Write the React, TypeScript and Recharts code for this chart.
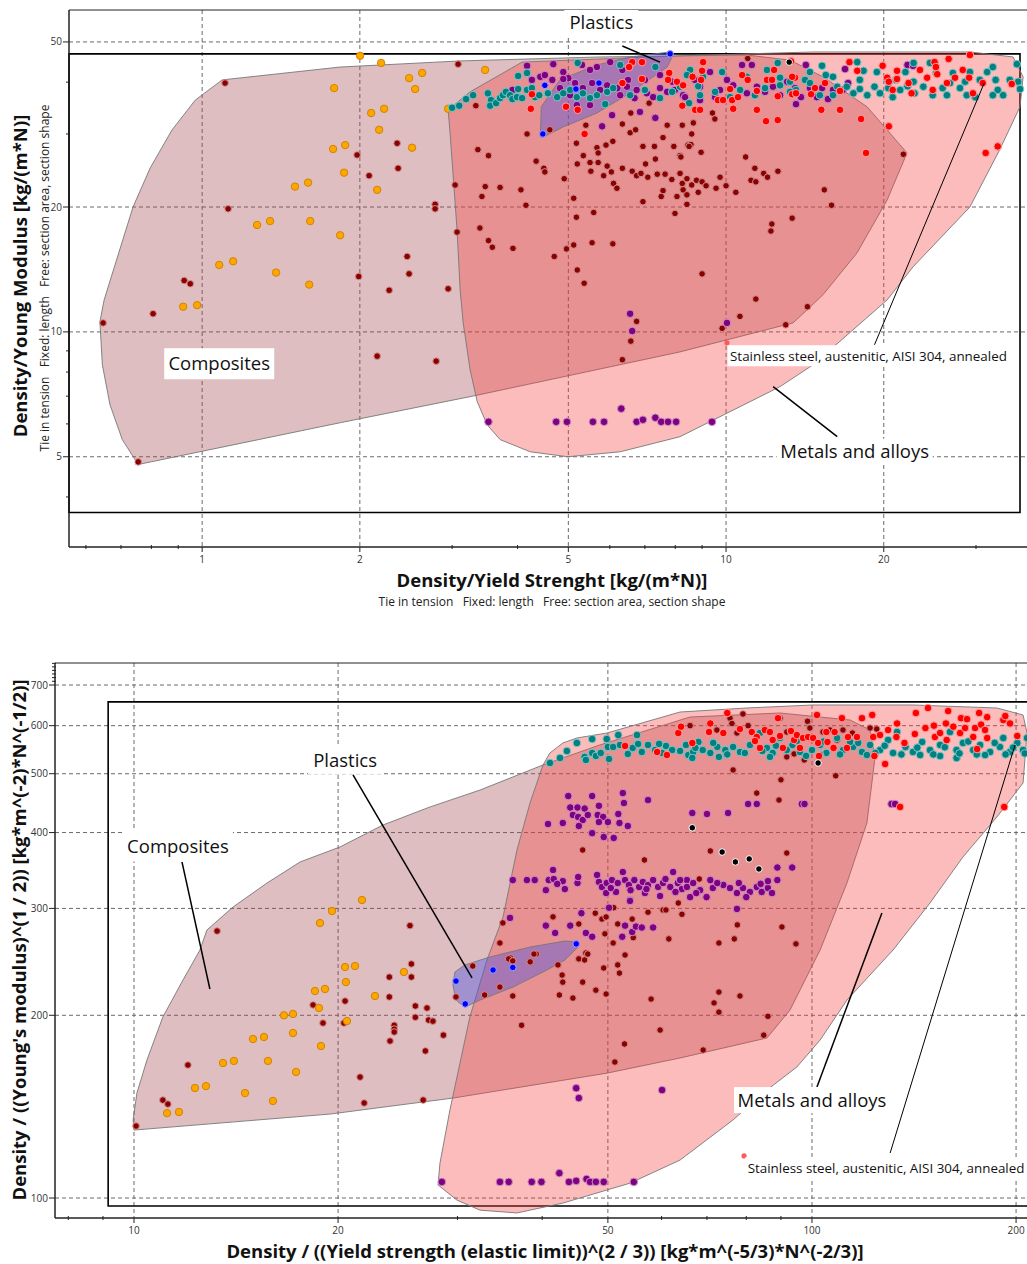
import React from "react";
import { ScatterChart, Scatter, XAxis, YAxis, CartesianGrid, ReferenceArea } from "recharts";

type Pt = [number, number];

// ---------- top chart: Density/Yield strength vs Density/Young modulus ----------
const topXTicks = [0.6, 0.7, 0.8, 0.9, 1, 2, 3, 4, 5, 6, 7, 8, 9, 10, 20, 30];
const topXMajor = [1, 2, 5, 10, 20];
const topYTicks = [4, 5, 6, 7, 8, 9, 10, 20, 30, 40, 50];
const topYMajor = [5, 10, 20, 50];

const topComposites: Pt[] = [
  [0.755, 4.79], [0.704, 5.5], [0.667, 6.67], [0.645, 8.33], [0.638, 10.58], [0.65, 11.94], [0.682, 14.52],
  [0.738, 20], [0.796, 24.85], [0.876, 30.68], [0.97, 36.2], [1.092, 40.5], [1.834, 43.5], [3.108, 45.0],
  [5.75, 46.0], [10.96, 46.5], [13.25, 45.2], [15.31, 41.2], [18.58, 34.9], [22.15, 27.0], [20.3, 20.8],
  [17.78, 15.5], [15.31, 12.29], [14.28, 11.3], [13.42, 10.51], [8.17, 8.95], [3.3, 7.01], [1.834, 6.04],
];
const topMetals: Pt[] = [
  [2.948, 34.3], [3.247, 37.9], [4.08, 44.7], [8.17, 46.3], [14.66, 47.3], [29.2, 47.3], [35.3, 46.0],
  [36.9, 41.2], [36.4, 34.9], [33.3, 27.5], [29.2, 20], [22.75, 14.35], [20.3, 11.94], [17.48, 10.12],
  [14.66, 8.33], [12.68, 7.38], [8.17, 5.59], [6.28, 5.14], [4.99, 5.0], [4.23, 5.14], [3.704, 5.5],
  [3.5, 5.97], [3.35, 6.79], [3.247, 8.1], [3.15, 10.51], [3.108, 12.6], [3.066, 17.6], [2.973, 30.2],
];
const topPlastics: Pt[] = [
  [4.42, 29.5], [4.44, 34.9], [4.82, 40.5], [5.67, 44.0], [6.56, 46.0], [7.82, 47.3], [7.92, 46.5],
  [7.72, 43.5], [6.56, 37.7], [5.67, 33.7], [4.89, 31.2], [4.48, 29.5],
];

const topOrange: Pt[] = [
  [1.786, 38.7], [1.778, 27.6], [1.504, 22.4], [1.593, 22.9], [1.273, 18.1], [1.348, 18.5], [1.608, 18.5],
  [1.834, 17.1], [1.078, 14.5], [1.146, 14.8], [1.384, 13.9], [1.601, 13.0], [0.92, 11.5], [0.978, 11.6],
  [2.002, 46.3], [2.196, 44.5], [2.483, 40.9], [2.63, 42.1], [2.55, 38.5], [3.468, 42.8], [2.102, 33.7],
  [2.225, 34.5], [2.177, 30.7], [1.875, 28.2], [2.516, 27.8], [1.866, 24.2], [2.158, 22.0], [2.948, 34.5],
];
const topDarkRed: Pt[] = [
  [1.106, 39.8], [1.121, 19.8], [0.924, 13.3], [0.949, 13.06], [0.647, 10.51], [0.806, 11.06], [0.755, 4.86],
  [3.08, 44.2], [3.33, 35.1], [1.976, 26.7], [2.356, 28.5], [2.366, 24.8], [2.083, 23.8], [2.784, 20.3],
  [2.784, 19.8], [3.04, 22.6], [3.47, 22.4], [3.704, 22.3], [3.36, 27.5], [3.52, 26.6], [3.42, 21.2],
  [4.06, 22.0], [4.15, 20.2], [4.34, 25.8], [4.49, 24.8], [4.51, 24.3], [4.91, 23.4], [5.12, 21.0],
  [5.18, 18.9], [5.59, 19.4], [4.17, 30.0], [4.61, 30.7], [5.18, 28.5], [5.4, 31.5], [5.67, 27.8],
  [5.7, 27.0], [5.9, 28.2], [6.08, 28.8], [6.34, 31.7], [6.58, 33.7], [6.56, 30.2], [6.72, 30.7],
  [7.13, 35.6], [7.3, 32.8], [7.72, 31.5], [8.25, 31.5], [6.94, 28.0], [7.3, 28.0], [7.58, 29.4],
  [7.95, 28.0], [8.46, 28.2], [8.17, 26.6], [5.2, 25.4], [5.34, 26.6], [5.5, 25.6], [5.7, 25.6],
  [5.93, 25.1], [6.04, 24.3], [5.84, 23.8], [5.52, 24.4], [6.1, 22.8], [6.19, 22.2], [6.34, 24.8],
  [6.62, 24.4], [6.75, 23.8], [6.88, 24.1], [7.02, 25.4], [7.09, 23.6], [7.33, 26.1], [7.39, 24.0],
  [7.65, 24.0], [7.88, 23.3], [8.17, 24.1], [8.25, 22.8], [8.28, 22.0], [7.58, 21.9], [7.52, 21.2],
  [8.06, 21.2], [6.94, 20.6], [7.99, 19.3], [3.066, 17.4], [3.39, 17.8], [3.52, 16.6], [3.58, 16.0],
  [3.92, 15.9], [4.7, 15.2], [4.96, 15.85], [5.12, 16.2], [5.55, 16.4], [6.08, 16.3], [2.462, 15.2],
  [2.483, 13.8], [1.99, 13.6], [2.275, 12.6], [2.948, 12.7], [5.2, 14.1], [5.36, 13.1], [11.0, 45.6],
  [8.66, 31.9], [9.42, 33.7], [9.52, 32.6], [8.6, 30.0], [8.57, 28.3], [8.5, 28.0], [8.96, 27.1],
  [8.2, 26.4], [8.42, 23.4], [8.78, 23.2], [8.6, 22.6], [9.0, 23.0], [9.16, 22.5], [8.42, 21.4],
  [8.85, 21.7], [9.57, 22.2], [9.74, 23.6], [10.0, 22.5], [10.44, 21.7], [10.9, 26.4], [11.35, 24.8],
  [11.16, 23.2], [11.4, 23.0], [11.8, 24.1], [12.0, 23.6], [12.56, 24.4], [15.4, 22.0], [15.9, 20.2],
  [12.23, 18.2], [12.18, 17.5], [13.37, 18.8], [9.0, 13.8], [11.4, 12.0], [8.42, 20.3], [21.8, 26.8],
  [14.3, 11.5], [10.63, 10.9], [13.0, 10.4], [9.83, 10.2], [2.158, 8.74], [2.797, 8.5], [6.75, 10.6],
  [6.58, 9.5], [6.34, 8.57],
];
const topTeal: Pt[] = [
  [3.0, 34.7], [3.095, 35.1], [3.19, 36.4], [3.29, 37.2], [3.51, 37.6], [3.56, 36.2], [3.546, 35.1],
  [3.64, 35.6], [3.704, 36.6], [3.75, 37.2], [3.8, 37.9], [3.87, 37.2], [3.91, 36.4], [3.99, 36.8],
  [4.01, 38.5], [4.08, 36.6], [4.17, 38.3], [4.26, 38.7], [4.32, 36.8], [4.4, 37.2], [4.01, 41.4],
  [4.17, 42.1], [4.57, 37.6], [4.76, 36.8], [4.89, 37.6], [5.04, 38.3], [5.19, 36.8], [5.21, 44.5],
  [5.33, 37.6], [5.5, 36.6], [5.67, 37.2], [5.93, 37.9], [6.09, 38.7], [6.28, 44.0], [5.88, 35.4],
  [7.33, 43.5], [8.54, 42.8], [9.04, 41.2], [9.83, 42.3], [10.96, 41.2], [11.97, 42.8], [12.55, 44.5],
  [12.68, 41.0], [13.25, 40.1], [14.15, 40.5], [14.46, 42.3], [15.25, 43.8], [16.0, 41.2], [16.3, 39.0],
  [17.0, 39.0], [17.5, 37.6], [18.0, 38.5], [18.3, 42.6], [17.8, 44.7], [18.6, 37.2], [19.2, 39.0],
  [19.67, 37.6], [20.4, 38.7], [20.8, 36.8], [21.5, 38.3], [19.4, 42.3], [21.1, 40.5], [22.8, 44.5],
  [22.9, 37.6], [23.8, 39.0], [24.5, 44.5], [24.8, 37.2], [25.9, 38.7], [26.4, 37.2], [27.1, 42.1],
  [27.96, 38.7], [28.8, 37.2], [29.2, 42.3], [30.5, 40.5], [31.5, 42.3], [32.3, 43.5], [32.7, 40.5],
  [33.0, 38.3], [33.8, 37.2], [34.8, 40.5], [35.9, 44.2], [36.1, 40.1], [36.4, 38.5], [22.8, 40.1],
  [32.3, 37.2], [29.9, 36.8], [28.6, 40.1], [26.76, 39.8], [25.2, 42.1], [22.0, 42.3], [22.2, 39.1],
  [20.3, 40.5], [18.0, 40.5], [15.5, 41.6], [16.0, 37.2], [15.1, 37.2], [14.46, 39.8], [13.6, 38.3],
  [13.25, 37.9], [12.68, 39.3], [8.42, 41.6], [8.17, 39.0], [8.85, 39.1], [8.5, 35.6], [6.56, 37.2],
  [7.0, 38.3], [7.48, 36.6], [7.89, 37.9], [8.92, 37.2], [9.53, 37.9], [10.18, 36.8], [10.64, 38.3],
  [11.35, 37.2], [11.87, 38.7],
];
const topPurple: Pt[] = [
  [4.17, 43.8], [4.68, 44.2], [4.89, 42.3], [5.0, 40.9], [4.17, 42.1], [4.26, 40.5], [4.42, 41.2],
  [4.66, 40.5], [4.82, 38.7], [5.15, 39.8], [5.33, 38.7], [5.55, 39.8], [5.93, 39.3], [6.2, 38.7],
  [6.5, 40.5], [6.34, 42.8], [6.01, 44.7], [5.67, 43.5], [5.31, 44.0], [5.5, 42.8], [4.89, 40.7],
  [3.91, 38.3], [5.19, 35.2], [5.5, 35.2], [6.06, 33.3], [6.85, 33.9], [7.33, 32.8], [5.8, 31.3],
  [6.75, 38.3], [7.06, 37.6], [7.26, 36.8], [7.48, 38.7], [7.72, 37.9], [7.99, 38.3], [8.28, 37.2],
  [6.69, 36.6], [6.47, 39.0], [8.73, 40.5], [8.92, 39.0], [9.32, 42.3], [9.53, 36.8], [9.74, 38.3],
  [10.04, 40.5], [10.32, 39.3], [10.73, 44.0], [10.96, 37.6], [11.2, 44.0], [11.45, 39.0], [11.87, 37.9],
  [12.29, 39.0], [12.68, 37.2], [13.08, 40.1], [13.54, 38.7], [13.6, 35.4], [13.9, 36.8], [14.2, 44.0],
  [14.46, 38.7], [14.9, 36.8], [15.25, 38.7], [15.65, 36.4], [16.0, 38.3], [16.7, 38.3], [16.87, 43.0],
  [17.1, 39.8], [22.2, 44.0], [22.75, 43.8], [8.92, 36.2], [8.35, 36.8], [4.51, 41.6], [5.04, 37.2],
  [5.75, 38.3], [6.28, 37.2], [7.0, 40.5], [7.48, 41.6], [7.89, 40.1],
  [6.56, 11.06], [6.62, 10.05], [6.31, 6.53], [3.52, 6.07], [4.74, 6.07], [4.97, 6.07], [5.57, 6.07],
  [5.85, 6.07], [6.75, 6.07], [6.94, 6.14], [7.33, 6.21], [7.52, 6.07], [7.75, 6.07], [8.03, 6.07],
  [10.04, 10.51], [9.4, 6.07],
];
const topRed: Pt[] = [
  [6.62, 44.7], [6.91, 44.7], [6.53, 43.5], [4.26, 37.4], [4.24, 34.5], [4.95, 34.9], [5.21, 34.3],
  [6.34, 39.8], [6.91, 40.7], [7.79, 42.1], [7.75, 40.5], [8.06, 40.1], [8.28, 39.3], [8.25, 35.1],
  [5.37, 30.0], [9.04, 44.7], [9.0, 42.6], [8.63, 41.2], [8.96, 40.5], [8.73, 34.3], [8.92, 34.3],
  [9.65, 36.2], [9.87, 36.2], [10.27, 36.2], [10.18, 38.5], [10.54, 36.8], [10.73, 41.6], [11.0, 40.5],
  [11.45, 38.1], [11.97, 40.5], [12.35, 42.8], [12.24, 40.5], [12.55, 37.0], [13.54, 41.0], [13.37, 37.4],
  [13.6, 37.6], [14.78, 38.7], [14.53, 37.4], [15.45, 39.8], [16.5, 38.1], [17.2, 44.7], [17.8, 42.6],
  [19.9, 43.8], [20.3, 41.0], [20.45, 40.1], [20.8, 38.3], [21.2, 42.6], [21.2, 40.7], [22.3, 39.8],
  [22.6, 37.6], [23.45, 42.8], [24.2, 41.0], [25.0, 44.7], [25.15, 43.5], [25.3, 41.8], [24.8, 38.3],
  [26.4, 39.8], [26.6, 45.5], [27.35, 41.0], [28.3, 42.8], [29.2, 46.5], [29.1, 41.0], [29.6, 37.6],
  [30.9, 39.8], [35.1, 39.6], [10.32, 34.5], [11.45, 34.3], [11.92, 32.2], [12.55, 32.4], [15.2, 34.3],
  [16.5, 34.3], [18.1, 32.6], [20.45, 31.3], [18.5, 27.0], [33.0, 28.0], [31.3, 27.0], [13.3, 44.9],
  [13.37, 41.2],
];
const topBlue: Pt[] = [[4.51, 39.3], [5.17, 38.5], [5.72, 39.8], [4.47, 30.0], [7.82, 46.8]];
const topBlack: Pt[] = [[13.2, 44.7]];
const topSelected: Pt[] = [[10.04, 9.41]];

// ---------- bottom chart: Density/E^(1/2) vs Density/σy^(2/3) ----------
const botXTicks = [8, 9, 10, 20, 30, 40, 50, 60, 70, 80, 90, 100, 200];
const botXMajor = [10, 20, 50, 100, 200];
const botYTicks = [100, 200, 300, 400, 500, 600, 700, 710, 720, 730, 740, 750, 760];
const botYMajor = [100, 200, 300, 400, 500, 600, 700];

const botComposites: Pt[] = [
  [10.0, 129.4], [9.97, 134.5], [10.1, 148.9], [10.45, 168.8], [11.03, 198.7], [11.81, 228.6], [12.51, 256.2],
  [12.81, 276.4], [14.0, 301.6], [15.71, 330.3], [17.58, 357.8], [20.13, 378.7], [23.29, 411.6],
  [27.33, 440.8], [32.39, 470.0], [40.11, 516.9], [48.66, 557.7], [66.1, 620.0], [89.7, 629.5],
  [113.8, 613.0], [121.8, 590.2], [123.9, 532.9], [120.5, 414.8], [112.6, 330.3], [102.8, 256.2],
  [92.8, 204.0], [85.8, 183.5], [63.9, 170.1], [49.85, 160.6], [29.54, 146.1], [19.46, 137.5],
];
const botMetals: Pt[] = [
  [40.11, 516.9], [41.07, 541.0], [42.92, 561.9], [45.02, 572.6], [49.85, 583.5], [63.9, 631.9], [80.2, 641.6],
  [100.3, 649.0], [140.9, 649.0], [187.4, 641.6], [204.8, 624.8], [207.6, 583.5], [204.8, 482.7],
  [187.4, 424.4], [167.0, 364.6], [149.3, 306.2], [131.7, 256.2], [112.6, 211.9], [102.8, 182.1],
  [95.0, 164.4], [85.8, 150.6], [76.5, 134.5], [63.9, 115.5], [53.9, 105.8], [42.92, 98.1], [36.72, 94.5],
  [32.39, 95.5], [29.95, 99.2], [28.08, 105.1], [28.27, 114.2], [29.24, 139.6], [31.29, 198.7],
  [33.16, 246.7], [35.02, 290.4], [36.72, 374.4], [38.38, 447.4],
];
const botPlastics: Pt[] = [
  [29.54, 224.3], [29.74, 235.7], [30.77, 242.1], [33.5, 249.5], [38.38, 259.1], [43.22, 265.1],
  [44.86, 264.1], [45.17, 259.1], [43.22, 246.7], [40.66, 237.5], [36.22, 222.6], [32.39, 211.9],
  [30.77, 206.3], [29.85, 211.9],
];

const botOrange: Pt[] = [
  [18.49, 219.3], [19.13, 221.0], [16.64, 200], [17.16, 201.0], [18.74, 205.6], [17.16, 187.0], [18.87, 178.0],
  [14.98, 182.8], [15.55, 184.2], [13.53, 166.9], [14.04, 168.2], [15.76, 168.2], [17.34, 161.3],
  [12.3, 151.8], [12.77, 152.9], [14.58, 148.9], [16.03, 144.5], [11.19, 138.0], [11.65, 138.6],
  [18.81, 283.8], [19.59, 297.0], [20.48, 240.2], [21.18, 241.1], [20.54, 226.9], [25.01, 235.7],
  [22.67, 215.2], [20.61, 195.7], [21.69, 309.7],
];
const botDarkRed: Pt[] = [
  [13.26, 275.3], [10.07, 131.4], [11.03, 145], [11.22, 142.8], [12.01, 165.6], [18.37, 208.0], [19.0, 194.2],
  [25.53, 281], [45.9, 374.4], [56.6, 360.5], [34.65, 263.1], [35.0, 283.9], [41.5, 290.5], [45.3, 282.8],
  [47.9, 294.6], [49.0, 288.1], [49.7, 290.4], [51.0, 300.8], [51.7, 282.8], [53.0, 281], [54.3, 288.1],
  [57.3, 295.7], [60.3, 298.2], [60.9, 298.2], [61.5, 267.2], [64.3, 293.4], [63.5, 306.2], [49.5, 272.4],
  [50.9, 263.1], [53.0, 251.4], [46.4, 253.3], [35.9, 248.6], [39.2, 252.3], [54.5, 268.5], [31.6, 241.1],
  [35.7, 247.7], [36.2, 245.8], [38.4, 244.9], [38.9, 252.3], [42.2, 242.1], [42.8, 233.0], [42.9, 226.8],
  [45.9, 226.8], [45.3, 247.7], [46.2, 246.7], [46.7, 252.3], [49.3, 239.3], [48.0, 220], [49.7, 216.8],
  [42.4, 216], [44.4, 213.5], [36.2, 215.2], [34.65, 222.6], [32.9, 216], [29.85, 214.4], [37.3, 192.6],
  [23.8, 231.2], [25.65, 243.0], [25.65, 231.2], [23.8, 214.4], [20.48, 211.1], [20.4, 194.2], [26.0, 207.2],
  [26.0, 198.5], [27.05, 205.6], [27.2, 196.4], [27.6, 195.6], [24.2, 192.6], [24.2, 189.8], [24.2, 187.7],
  [23.86, 181.4], [28.6, 185.5], [26.9, 174.7], [21.55, 158.2], [21.85, 143.4], [26.7, 145], [51.7, 242.1],
  [52.0, 234.7], [57.9, 212.7], [59.7, 189.1], [52.9, 179.4], [51.2, 167.5], [72.9, 218.4], [78.3, 215.2],
  [71.7, 209.6], [72.9, 202.4], [86.1, 199.2], [84.9, 185.5], [69.1, 175.3], [76.5, 507.2], [90.0, 488.5],
  [108.4, 496.1], [82.9, 464.6], [89.4, 452.5], [70.8, 373.0], [91.8, 370.1], [68.2, 335.4], [77.6, 281.8],
  [90.3, 279.6], [76.8, 267.2], [72.9, 263.1], [94.7, 262.2], [79.1, 627.2], [75.7, 617.3], [76.2, 605],
  [72.4, 590.2], [66.1, 600], [77.5, 583.5], [80.5, 600], [89.7, 617.3], [98.5, 610], [99.3, 594.7],
  [103.8, 585.7], [106.3, 590.2], [108.9, 568.2], [111.1, 590.2], [114.7, 583.5], [121.8, 594.7],
  [124.6, 592.4], [91.8, 585.7], [91.8, 532.9], [97.4, 526.8], [94.1, 539],
];
const botPurple: Pt[] = [
  [36.2, 334], [37.98, 334], [39.0, 334], [40.9, 334], [41.6, 335.3], [42.9, 332.7], [43.2, 322.8], [45.1, 330.3],
  [45.2, 337.9], [40.5, 321.5], [42.1, 329.2], [41.5, 347.1], [48.2, 340.6], [48.5, 331.6], [49.0, 325.4],
  [49.8, 330.3], [50.7, 334], [51.7, 330.3], [52.6, 344.4], [53.0, 334], [53.7, 327.9], [54.7, 334],
  [55.6, 325.4], [56.3, 331.6], [57.3, 327.9], [58.3, 334], [59.3, 325.4], [60.3, 330.3], [61.8, 325.4],
  [62.4, 344.4], [63.4, 330.3], [64.3, 322.8], [65.4, 334], [49.7, 318], [53.9, 309.7], [51.4, 319.3],
  [56.7, 318], [59.7, 314.4], [63.9, 334], [65.4, 325.4], [66.8, 330.3], [68.4, 321.5], [70.8, 334],
  [71.4, 324.1], [74.0, 327.9], [75.7, 324.1], [77.5, 318], [79.1, 324.1], [81.0, 319.3], [82.9, 325.4],
  [84.3, 319.3], [86.1, 324.1], [87.3, 318], [88.9, 334], [86.1, 332.7], [69.9, 313.1], [66.1, 313.1],
  [57.0, 322.8], [60.8, 335.3], [54.0, 321.5], [50.5, 324.1], [62.9, 319.3], [67.5, 318], [72.5, 330.3],
  [78.0, 330.3], [84.0, 329.2], [80.0, 313.1],
  [43.7, 459.4], [47.4, 459.4], [52.6, 464.6], [52.8, 447.4], [57.3, 452.5], [44.0, 439.9], [45.1, 439.9],
  [46.2, 438.1], [44.4, 427.6], [45.2, 424.4], [45.9, 419.5], [46.7, 427.6], [48.5, 442.7], [48.3, 427.6],
  [49.2, 424.4], [48.5, 416.3], [50.0, 416.3], [51.8, 429.2], [52.0, 414.8], [53.5, 410.1], [42.9, 414.8],
  [40.8, 413.2], [45.3, 410.1], [47.4, 399.1], [49.3, 393.3], [51.0, 391.9], [66.6, 430.8], [70.0, 429.2],
  [75.2, 430.8], [80.5, 445.8], [82.9, 445.8], [96.6, 445.8], [97.5, 445.8], [131.0, 445.8], [132.6, 445.8],
  [88.9, 350.3], [93.5, 350.3], [77.5, 299.4],
  [35.86, 289.4], [40.5, 281], [41.8, 273.3], [44.0, 281], [45.7, 294.6], [46.4, 273.3], [47.4, 269.4],
  [50.2, 300.8], [53.0, 281], [54.3, 274.3], [55.0, 280], [56.1, 279], [58.3, 279], [52.5, 269.4], [53.9, 308.6],
  [28.45, 106.3], [34.65, 106.3], [35.7, 106.3], [38.6, 106.3], [39.9, 106.3], [42.4, 109.9], [43.8, 106.3],
  [44.9, 106.7], [46.5, 107.5], [47.06, 106.3], [48.0, 106.3], [49.3, 106.3], [54.6, 106.3], [44.9, 151.7],
  [45.3, 146.1], [60.1, 150.6],
];
const botTeal: Pt[] = [
  [41.07, 520.8], [42.5, 530.8], [43.5, 545], [45.0, 561.9], [47.4, 570.3], [46.2, 532.9], [46.4, 526.8],
  [47.4, 541], [48.0, 534.8], [48.8, 541], [49.8, 570.3], [50.0, 553.5], [50.2, 528.8], [50.9, 553.5],
  [51.8, 579.1], [52.1, 557.7], [53.5, 539], [54.4, 551.4], [55.2, 579.1], [55.4, 559.8], [56.1, 543],
  [57.3, 557.7], [58.7, 547], [60.1, 541], [60.9, 555.6], [62.2, 547], [63.9, 545], [65.2, 557.7],
  [65.7, 536.8], [66.8, 543], [68.0, 564], [69.0, 547], [70.8, 541], [72.5, 553.5], [74.5, 547], [76.5, 553.5],
  [78.3, 543], [81.0, 557.7], [83.8, 583.5], [85.8, 551.4], [87.5, 541], [89.7, 572.6], [91.8, 547],
  [93.6, 557.7], [96.0, 543], [100, 547], [102.8, 557.7], [105.0, 541], [108.9, 572.6], [111.1, 547],
  [115.0, 553.5], [118.5, 543], [121.8, 557.7], [126.0, 547], [129.5, 568.2], [133.5, 585.7], [131.7, 541],
  [137.4, 553.5], [140.9, 543], [145.4, 564], [149.3, 547], [154.5, 557.7], [159.8, 585.7], [163.4, 547],
  [167.0, 561.9], [172.9, 547], [177.0, 557.7], [183.1, 543], [189.3, 553.5], [191.5, 572.6], [195.9, 543],
  [200.8, 561.9], [204.8, 547], [207.6, 572.6], [163.4, 530.8], [144.4, 536.8], [120.5, 536.8], [66.6, 530.8],
  [72.9, 532.9], [86.7, 532.9], [67.3, 551.4], [79.6, 541], [102.8, 536.8], [113.8, 564], [154.5, 534.8],
  [180, 536.8], [59.5, 560], [71.5, 562], [75.0, 538], [84.5, 545], [88.5, 556], [95.0, 566], [98.0, 535],
  [104.0, 565], [110.0, 538], [117.0, 562], [124.0, 541], [128.0, 556], [135.5, 538], [143.0, 552],
  [151.0, 538], [157.0, 553], [165.0, 540], [170.0, 565], [175.0, 538], [186.0, 562], [193.0, 538],
  [198.0, 552], [206, 540],
];
const botRed: Pt[] = [
  [53.0, 555.6], [59.1, 543], [61.1, 536.8], [63.5, 583.5], [64.1, 597.7], [70.8, 605], [70.5, 585.7],
  [75.0, 629.5], [74.0, 583.5], [78.3, 592.4], [81.5, 585.7], [82.9, 574.8], [83.8, 551.4], [82.4, 566],
  [85.2, 590.2], [86.7, 585.7], [87.5, 568.2], [89.1, 617.3], [89.7, 577], [90.6, 551.4], [93.1, 588],
  [94.1, 568.2], [95.0, 579.1], [96.0, 551.4], [97.0, 572.6], [98.7, 574.8], [100.4, 572.6], [101.7, 624.8],
  [102.1, 561.9], [102.4, 534.8], [105.0, 585.7], [105.4, 564], [108.0, 585.7], [107.6, 551.4], [110.7, 617.3],
  [112.6, 551.4], [113.0, 574.8], [116.5, 574.8], [118.5, 617.3], [122.7, 624.8], [123.1, 574.8],
  [123.6, 534.8], [126.0, 579.1], [128.2, 518.8], [129.5, 590.2], [133.2, 574.8], [133.5, 605], [136.9, 561.9],
  [141.8, 581.3], [142.3, 629.5], [147.0, 594.7], [148.3, 641.6], [151.3, 600], [151.8, 574.8], [154.5, 583.5],
  [157.6, 605], [158.0, 568.2], [158.8, 634.2], [161.6, 597.7], [165.4, 583.5], [165.9, 617.3], [168.2, 594.7],
  [169.3, 615], [172.9, 574.8], [174.0, 594.7], [175.2, 549], [176.4, 629.5], [177.6, 602.4], [180.0, 590.2],
  [181.3, 619.7], [181.3, 572.6], [191.5, 613], [192.8, 622.3], [195.9, 605], [200.8, 577], [192.1, 440.8],
  [134.9, 440.8], [66.6, 561.9],
];
const botBlue: Pt[] = [[29.85, 227.7], [30.8, 208.8], [33.85, 237.5], [36.2, 239.8], [44.9, 262.2]];
const botBlack: Pt[] = [[102.1, 520.8], [66.6, 407.3], [73.7, 371.5], [77.1, 357.8], [80.8, 361.9], [83.5, 348.4]];
const botSelected: Pt[] = [[79.4, 117.3]];

// annotations: label anchor and leader line, in data units
const STAINLESS = "Stainless steel, austenitic, AISI 304, annealed";
const topNotes = [
  { text: "Plastics", at: [5.78, 55.9] as Pt, line: [[6.34, 48.9], [7.48, 44.7]] as Pt[] },
  { text: "Composites", at: [1.078, 8.38] as Pt },
  { text: "Metals and alloys", at: [17.6, 5.14] as Pt, line: [[12.3, 7.38], [16.3, 5.59]] as Pt[] },
  { text: STAINLESS, at: [18.7, 8.76] as Pt, line: [[19.2, 9.31], [31.1, 39.8]] as Pt[] },
];
const botNotes = [
  { text: "Plastics", at: [20.48, 526.8] as Pt, line: [[21.04, 497.9], [31.52, 230.4]] as Pt[] },
  { text: "Composites", at: [11.61, 380.1] as Pt, line: [[11.77, 357.8], [12.94, 221.0]] as Pt[] },
  { text: "Metals and alloys", at: [100, 145] as Pt, line: [[126.8, 294.9], [101.7, 152.4]] as Pt[] },
  { text: STAINLESS, at: [128.6, 112.1] as Pt, line: [[199.3, 557.7], [130.4, 118.6]] as Pt[] },
];

const boxSize: Record<string, { w: number; h: number; fs: number }> = {
  Plastics: { w: 74, h: 28, fs: 18.5 },
  Composites: { w: 110, h: 31, fs: 18.5 },
  "Metals and alloys": { w: 156, h: 26, fs: 18.5 },
  [STAINLESS]: { w: 282, h: 21, fs: 13.4 },
};

const dotStyles = {
  darkred: { fill: "#8b0000", stroke: "#d49090", r: 3.3 },
  orange: { fill: "#ffa500", stroke: "#cf8400", r: 3.7 },
  purple: { fill: "#800080", stroke: "#c990c9", r: 3.8 },
  teal: { fill: "#008080", stroke: "#80c6c6", r: 3.8 },
  red: { fill: "#ff0000", stroke: "#ffa0a0", r: 3.8 },
  blue: { fill: "#0000ff", stroke: "#a0a0ff", r: 3.3 },
  black: { fill: "#000000", stroke: "#ffffff", r: 3.3 },
  selected: { fill: "#ff5a5a", stroke: "none", r: 2.6 },
};

const font = '"Open Sans", "Noto Sans", sans-serif';
const toXY = (a: Pt[]) => a.map(([x, y]) => ({ x, y }));
const blank = () => <g />;

function polyLine(fill: string, opacity: number) {
  return (lp: any) => {
    const pts = lp.points || [];
    const d = pts.map((p: any, i: number) => `${i ? "L" : "M"}${p.x},${p.y}`).join(" ") + " Z";
    return <path d={d} fill={fill} fillOpacity={opacity} stroke="#777" strokeWidth={0.9} />;
  };
}

function leader(width: number) {
  return (lp: any) => {
    const pts = lp.points || [];
    const d = pts.map((p: any, i: number) => `${i ? "L" : "M"}${p.x},${p.y}`).join(" ");
    return <path d={d} fill="none" stroke="#000" strokeWidth={width} />;
  };
}

function Callout(sp: any) {
  const text = sp.payload?.text ?? sp.text;
  const b = boxSize[text];
  return (
    <g>
      <rect x={sp.cx - b.w / 2} y={sp.cy - b.h / 2} width={b.w} height={b.h} fill="#fff" />
      <text x={sp.cx} y={sp.cy} dy="0.36em" textAnchor="middle" fontSize={b.fs} fontFamily={font} fill="#111">
        {text}
      </text>
    </g>
  );
}

function XTick(p: any) {
  const major = p.majors.includes(p.payload.value);
  return (
    <g>
      <line x1={p.x} x2={p.x} y1={major ? p.y : p.y - 2} y2={major ? p.y + 5 : p.y + 2} stroke="#222" />
      {major && (
        <text x={p.x} y={p.y + 16} textAnchor="middle" fontSize={10} fontFamily={font} fill="#333">
          {p.payload.value}
        </text>
      )}
    </g>
  );
}

function YTick(p: any) {
  const major = p.majors.includes(p.payload.value);
  return (
    <g>
      <line x1={major ? p.x - 6 : p.x - 3} x2={major ? p.x : p.x + 1} y1={p.y} y2={p.y} stroke="#222" />
      {major && (
        <text x={p.x - 7} y={p.y} dy="0.35em" textAnchor="end" fontSize={10} fontFamily={font} fill="#333">
          {p.payload.value}
        </text>
      )}
    </g>
  );
}

type Note = { text: string; at: Pt; line?: Pt[] };
type ChartProps = {
  height: number;
  margin: { top: number; right: number; bottom: number; left: number };
  xDomain: [number, number];
  yDomain: [number, number];
  xTicks: number[];
  xMajor: number[];
  yTicks: number[];
  yMajor: number[];
  frame: { x1: number; x2: number; y1: number; y2: number };
  composites: Pt[];
  metals: Pt[];
  plastics: Pt[];
  groups: { kind: keyof typeof dotStyles; pts: Pt[] }[];
  notes: Note[];
};

function SelectionChart(c: ChartProps) {
  return (
    <ScatterChart width={1040} height={c.height} margin={c.margin}>
      <CartesianGrid
        verticalValues={c.xMajor}
        horizontalValues={c.yMajor}
        stroke="#6a6a6a"
        strokeDasharray="4 3"
      />
      <XAxis
        type="number"
        dataKey="x"
        scale="log"
        domain={c.xDomain}
        allowDataOverflow
        ticks={c.xTicks}
        interval={0}
        tickSize={0}
        tickMargin={0}
        tickLine={false}
        axisLine={{ stroke: "#222" }}
        height={40}
        tick={(p: any) => <XTick {...p} majors={c.xMajor} />}
      />
      <YAxis
        type="number"
        dataKey="y"
        scale="log"
        domain={c.yDomain}
        allowDataOverflow
        ticks={c.yTicks}
        interval={0}
        tickSize={0}
        tickMargin={0}
        tickLine={false}
        axisLine={{ stroke: "#222" }}
        width={40}
        tick={(p: any) => <YTick {...p} majors={c.yMajor} />}
      />
      <Scatter data={toXY(c.composites)} shape={blank} line={polyLine("rgb(160,70,75)", 0.35)} isAnimationActive={false} />
      <Scatter data={toXY(c.metals)} shape={blank} line={polyLine("rgb(248,60,60)", 0.34)} isAnimationActive={false} />
      <Scatter data={toXY(c.plastics)} shape={blank} line={polyLine("rgb(70,80,230)", 0.4)} isAnimationActive={false} />
      {c.groups.map((g, i) => {
        const st = dotStyles[g.kind];
        return (
          <Scatter
            key={g.kind + i}
            data={toXY(g.pts)}
            isAnimationActive={false}
            shape={(sp: any) => (
              <circle cx={sp.cx} cy={sp.cy} r={st.r} fill={st.fill} stroke={st.stroke} strokeWidth={1} />
            )}
          />
        );
      })}
      <ReferenceArea
        x1={c.xDomain[0]}
        x2={c.xDomain[1]}
        y1={c.yDomain[0]}
        y2={c.yDomain[1]}
        fill="none"
        stroke="#222"
        strokeWidth={1}
        ifOverflow="visible"
      />
      <ReferenceArea
        x1={c.frame.x1}
        x2={c.frame.x2}
        y1={c.frame.y1}
        y2={c.frame.y2}
        fill="none"
        stroke="#000"
        strokeWidth={1.6}
        ifOverflow="visible"
      />
      {c.notes.filter((n) => n.line).map((n, i) => (
        <Scatter
          key={"l" + i}
          data={toXY(n.line as Pt[])}
          shape={blank}
          line={leader(n.text === STAINLESS ? 1 : 1.5)}
          isAnimationActive={false}
        />
      ))}
      {c.notes.map((n, i) => (
        <Scatter
          key={"n" + i}
          data={[{ x: n.at[0], y: n.at[1], text: n.text }]}
          shape={(sp: any) => <Callout {...sp} />}
          isAnimationActive={false}
        />
      ))}
    </ScatterChart>
  );
}

const title: React.CSSProperties = {
  position: "absolute",
  transform: "translate(-50%, -50%)",
  whiteSpace: "pre",
  fontFamily: font,
  color: "#111",
  lineHeight: 1,
};
const vTitle: React.CSSProperties = { ...title, transform: "translate(-50%, -50%) rotate(-90deg)" };
const SUBTITLE = "Tie in tension   Fixed: length   Free: section area, section shape";

export default function App() {
  return (
    <div
      style={{
        position: "absolute",
        left: 0,
        top: 0,
        width: 1027,
        height: 1264,
        overflow: "hidden",
        background: "#fff",
        fontFamily: font,
      }}
    >
      <div style={{ position: "absolute", left: 0, top: 0 }}>
        <SelectionChart
          height={620}
          margin={{ top: 10, right: 4, bottom: 33, left: 29 }}
          xDomain={[0.557, 39.05]}
          yDomain={[3.03, 59.7]}
          xTicks={topXTicks}
          xMajor={topXMajor}
          yTicks={topYTicks}
          yMajor={topYMajor}
          frame={{ x1: 0.557, x2: 36.4, y1: 3.67, y2: 46.8 }}
          composites={topComposites}
          metals={topMetals}
          plastics={topPlastics}
          groups={[
            { kind: "darkred", pts: topDarkRed },
            { kind: "orange", pts: topOrange },
            { kind: "purple", pts: topPurple },
            { kind: "teal", pts: topTeal },
            { kind: "red", pts: topRed },
            { kind: "blue", pts: topBlue },
            { kind: "black", pts: topBlack },
            { kind: "selected", pts: topSelected },
          ]}
          notes={topNotes}
        />
      </div>
      <div style={{ ...title, left: 552, top: 580, fontSize: 18.5, fontWeight: 700 }}>
        Density/Yield Strenght [kg/(m*N)]
      </div>
      <div style={{ ...title, left: 552, top: 602, fontSize: 12, color: "#222" }}>{SUBTITLE}</div>
      <div style={{ ...vTitle, left: 20, top: 276, fontSize: 18.5, fontWeight: 700 }}>
        Density/Young Modulus [kg/(m*N)]
      </div>
      <div style={{ ...vTitle, left: 45, top: 278, fontSize: 12, color: "#222" }}>{SUBTITLE}</div>

      <div style={{ position: "absolute", left: 0, top: 650 }}>
        <SelectionChart
          height={614}
          margin={{ top: 13, right: 4, bottom: 6, left: 15 }}
          xDomain={[7.647, 214]}
          yDomain={[92.7, 761]}
          xTicks={botXTicks}
          xMajor={botXMajor}
          yTicks={botYTicks}
          yMajor={botYMajor}
          frame={{ x1: 9.16, x2: 210, y1: 97.0, y2: 656.7 }}
          composites={botComposites}
          metals={botMetals}
          plastics={botPlastics}
          groups={[
            { kind: "darkred", pts: botDarkRed },
            { kind: "orange", pts: botOrange },
            { kind: "purple", pts: botPurple },
            { kind: "teal", pts: botTeal },
            { kind: "red", pts: botRed },
            { kind: "blue", pts: botBlue },
            { kind: "black", pts: botBlack },
            { kind: "selected", pts: botSelected },
          ]}
          notes={botNotes}
        />
      </div>
      <div style={{ ...title, left: 545, top: 1251, fontSize: 18.5, fontWeight: 700 }}>
        {"Density / ((Yield strength (elastic limit))^(2 / 3)) [kg*m^(-5/3)*N^(-2/3)]"}
      </div>
      <div style={{ ...vTitle, left: 19, top: 940, fontSize: 18.5, fontWeight: 700 }}>
        {"Density / ((Young's modulus)^(1 / 2)) [kg*m^(-2)*N^(-1/2)]"}
      </div>
    </div>
  );
}
